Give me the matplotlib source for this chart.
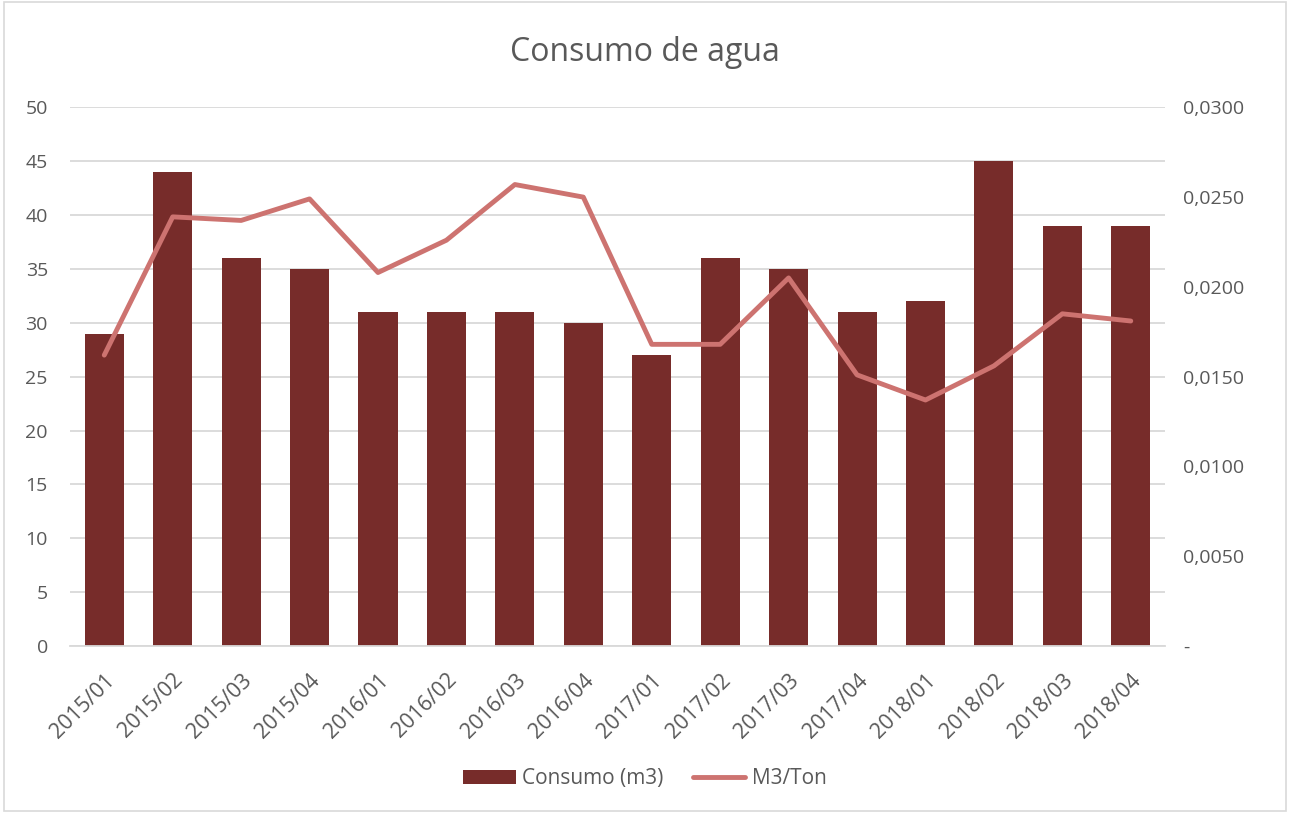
import matplotlib.pyplot as plt
from matplotlib.ticker import FuncFormatter
from matplotlib.patches import Rectangle

plt.rcParams['font.family'] = ['Open Sans', 'DejaVu Sans']

periods = ['2015/01', '2015/02', '2015/03', '2015/04',
           '2016/01', '2016/02', '2016/03', '2016/04',
           '2017/01', '2017/02', '2017/03', '2017/04',
           '2018/01', '2018/02', '2018/03', '2018/04']
consumo = [29, 44, 36, 35, 31, 31, 31, 30, 27, 36, 35, 31, 32, 45, 39, 39]
m3_ton = [0.0162, 0.0239, 0.0237, 0.0249, 0.0208, 0.0226, 0.0257, 0.0250,
          0.0168, 0.0168, 0.0205, 0.0151, 0.0137, 0.0156, 0.0185, 0.0181]

bar_color = '#772C2A'
line_color = '#CD7370'
text_color = '#595959'
grid_color = '#D9D9D9'

fig = plt.figure(figsize=(12.9, 8.13), dpi=100)
ax = fig.add_axes([0.0543, 0.2054, 0.8488, 0.6626])
ax2 = ax.twinx()

x = list(range(len(periods)))
ax.bar(x, consumo, width=0.57, color=bar_color, label='Consumo (m3)', zorder=2)
ax2.plot(x, m3_ton, color=line_color, linewidth=3.5, label='M3/Ton',
         solid_capstyle='round', zorder=3)

ax.set_xlim(-0.5, len(periods) - 0.5)
ax.set_ylim(0, 50)
ax.set_yticks(range(0, 51, 5))
ax2.set_ylim(0, 0.03)
ax2.set_yticks([0, 0.005, 0.01, 0.015, 0.02, 0.025, 0.03])
ax2.yaxis.set_major_formatter(FuncFormatter(
    lambda v, p: '-' if abs(v) < 1e-12 else ('%.4f' % v).replace('.', ',')))

ax.grid(axis='y', color=grid_color, linewidth=1.3, zorder=0)
ax.set_axisbelow(True)
for a in (ax, ax2):
    for s in a.spines.values():
        s.set_visible(False)
    a.tick_params(length=0, labelsize=14, colors=text_color)
ax.spines['bottom'].set_visible(True)
ax.spines['bottom'].set_color(grid_color)
ax.spines['bottom'].set_linewidth(1.3)

ax.set_xticks(x)
ax.set_xticklabels(periods, rotation=45, ha='right', rotation_mode='anchor',
                   fontsize=15.5)
ax.tick_params(axis='x', pad=17)
ax.tick_params(axis='y', pad=16)
ax2.tick_params(axis='y', pad=13)

fig.text(0.5, 0.935, 'Consumo de agua', ha='center', va='center',
         fontsize=23, color=text_color)

h1, l1 = ax.get_legend_handles_labels()
h2, l2 = ax2.get_legend_handles_labels()
fig.legend(h1 + h2, l1 + l2, loc='center', bbox_to_anchor=(0.5, 0.042),
           ncol=2, frameon=False, fontsize=15, labelcolor=text_color,
           handlelength=2.5, handletextpad=0.3, columnspacing=1.45)

fig.patches.append(Rectangle((0.003, 0.003), 0.994, 0.994, transform=fig.transFigure,
                             fill=False, edgecolor=grid_color, linewidth=1.2))

fig.savefig('out.png', dpi=100)
